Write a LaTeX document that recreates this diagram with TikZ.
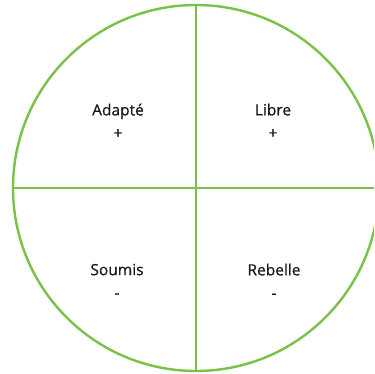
\documentclass[tikz,border=0pt]{standalone}
\usepackage{fontspec}
\setmainfont{Open Sans}
\newfontfamily\lblfont[FakeBold=0.6]{Open Sans}
\definecolor{lgreen}{RGB}{122,193,72}
\begin{document}
\begin{tikzpicture}[x=1pt,y=1pt,
  ring/.style={draw=lgreen,line width=2.4pt},
  lbl/.style={font=\lblfont\fontsize{15.5}{23}\selectfont,align=center,text=black!90}]
\useasboundingbox (0,0) rectangle (374,374);
\clip (0,0) rectangle (374,374);
\coordinate (c) at (196,186);
\draw[ring] (c) circle (183);
\coordinate (top) at (196,369);
\coordinate (bot) at (196,3);
\coordinate (left) at (13,186);
\coordinate (right) at (374,186);
\draw[ring] (top) -- (bot);
\draw[ring] (left) -- (right);
\node[lbl] (a) at (118,253) {Adapté\\+};
\node[lbl] (l) at (273,253) {Libre\\+};
\node[lbl] (s) at (117,93) {Soumis\\-};
\node[lbl] (r) at (274,93) {Rebelle\\-};
\end{tikzpicture}
\end{document}
